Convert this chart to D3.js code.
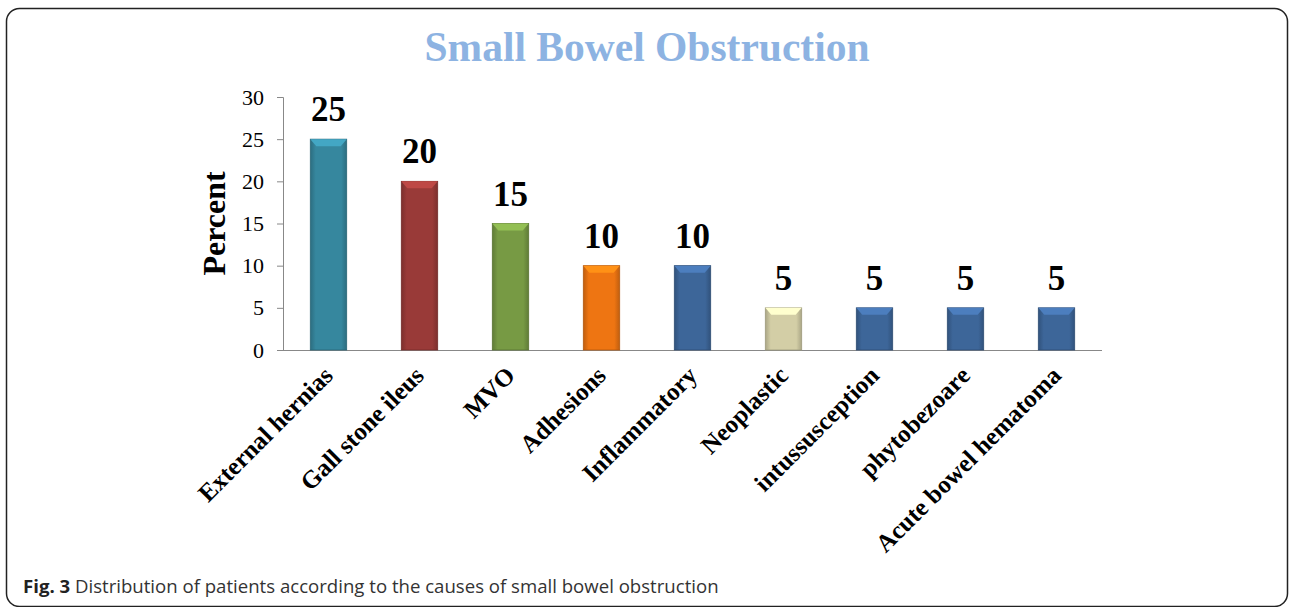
<!DOCTYPE html>
<html>
<head>
<meta charset="utf-8">
<script src="https://cdn.jsdelivr.net/npm/d3@7"></script>
<style>
  body { margin: 0; background: #fff; }
</style>
</head>
<body>
<div id="chart-area"></div>
<script>
const categories = ["External hernias", "Gall stone ileus", "MVO", "Adhesions", "Inflammatory",
  "Neoplastic", "intussusception", "phytobezoare", "Acute bowel hematoma"];
const percents = [25, 20, 15, 10, 10, 5, 5, 5, 5];
const barColors = ["#36879e", "#993a38", "#779a44", "#ee7512", "#3d6699",
  "#d3cea6", "#3d6699", "#3d6699", "#3d6699"];
const yTicks = [0, 5, 10, 15, 20, 25, 30];

const canvasWidth = 1290;
const canvasHeight = 607;
const margin = {left: 283, top: 97, right: 188, bottom: 257};
const chartWidth = canvasWidth - margin.left - margin.right;
const chartHeight = canvasHeight - margin.top - margin.bottom;

const canvas = d3.select("#chart-area").append("svg")
  .attr("width", canvasWidth).attr("height", canvasHeight);

// frame around figure
canvas.append("rect")
  .attr("x", 6.5).attr("y", 8.5).attr("width", 1281).attr("height", 598)
  .attr("rx", 13).attr("fill", "none").attr("stroke", "#222").attr("stroke-width", 1.5);

canvas.append("text")
  .attr("x", 647).attr("y", 61)
  .attr("text-anchor", "middle")
  .attr("font-family", "Liberation Serif, Times New Roman, serif")
  .attr("font-weight", "bold").attr("font-size", "41.5px")
  .attr("fill", "#8db3e2")
  .text("Small Bowel Obstruction");

const caption = canvas.append("text")
  .attr("x", 23).attr("y", 593)
  .attr("font-family", "Open Sans, Noto Sans, sans-serif")
  .attr("font-size", "18.6px").attr("fill", "#333");
caption.append("tspan").attr("font-weight", "bold").attr("fill", "#222").text("Fig. 3");
caption.append("tspan").text(" Distribution of patients according to the causes of small bowel obstruction");

const chartGroup = canvas.append("g").attr("transform", `translate(${margin.left}, ${margin.top})`);

const yScale = d3.scaleLinear().domain([0, 30]).range([chartHeight, 0]);
const xScale = d3.scaleBand().domain(categories).range([0, chartWidth]).paddingInner(0.6).paddingOuter(0.3);

// bar gradients
const defs = canvas.append("defs");
barColors.forEach((c, i) => {
  const g = defs.append("linearGradient").attr("id", "grad" + i)
    .attr("x1", 0).attr("x2", 1).attr("y1", 0).attr("y2", 0);
  const base = d3.color(c);
  g.append("stop").attr("offset", 0).attr("stop-color", base.darker(0.6));
  g.append("stop").attr("offset", 0.15).attr("stop-color", base);
  g.append("stop").attr("offset", 0.85).attr("stop-color", base);
  g.append("stop").attr("offset", 1).attr("stop-color", base.darker(0.6));
});

const yAxis = d3.axisLeft(yScale).tickValues(yTicks).tickSize(6).tickPadding(13);
const yAxisG = chartGroup.append("g").call(yAxis);
yAxisG.select(".domain").attr("stroke", "#888").attr("d", `M-6,0.5H0.5V${chartHeight}`);
yAxisG.selectAll(".tick line").attr("stroke", "#888");
yAxisG.selectAll(".tick text")
  .attr("font-family", "Liberation Serif, Times New Roman, serif")
  .attr("font-size", "22px").attr("fill", "#000");

chartGroup.append("line")
  .attr("x1", 0).attr("x2", chartWidth)
  .attr("y1", chartHeight + 0.5).attr("y2", chartHeight + 0.5)
  .attr("stroke", "#888").attr("stroke-width", 1.2);

chartGroup.append("text")
  .attr("transform", `translate(-58, ${yScale(15)}) rotate(-90)`)
  .attr("text-anchor", "middle")
  .attr("font-family", "Liberation Serif, Times New Roman, serif")
  .attr("font-weight", "bold").attr("font-size", "32px")
  .text("Percent");

const bw = xScale.bandwidth();
const bars = chartGroup.selectAll(".bar").data(categories).enter().append("g").attr("class", "bar");

bars.append("rect")
  .attr("x", d => xScale(d))
  .attr("y", (d, i) => yScale(percents[i]))
  .attr("width", bw)
  .attr("height", (d, i) => chartHeight - yScale(percents[i]))
  .attr("fill", (d, i) => `url(#grad${i})`)
  .attr("stroke", (d, i) => d3.color(barColors[i]).darker(0.8))
  .attr("stroke-width", 0.8);

// top bevel
bars.append("path")
  .attr("d", (d, i) => {
    const x0 = xScale(d), y0 = yScale(percents[i]);
    return `M${x0},${y0}H${x0 + bw}L${x0 + bw - 6},${y0 + 7}H${x0 + 6}Z`;
  })
  .attr("fill", (d, i) => d3.color(barColors[i]).brighter(0.6));

// value labels
chartGroup.selectAll(".val").data(categories).enter().append("text")
  .attr("x", d => xScale(d) + bw / 2)
  .attr("y", (d, i) => yScale(percents[i]) - 18)
  .attr("text-anchor", "middle")
  .attr("font-family", "Liberation Serif, Times New Roman, serif")
  .attr("font-weight", "bold").attr("font-size", "35px")
  .text((d, i) => percents[i]);

// category labels
chartGroup.selectAll(".cat").data(categories).enter().append("text")
  .attr("transform", d => `translate(${xScale(d) + bw / 2 + 6}, ${chartHeight + 27}) rotate(-45)`)
  .attr("text-anchor", "end")
  .attr("font-family", "Liberation Serif, Times New Roman, serif")
  .attr("font-weight", "bold").attr("font-size", "25px")
  .text(d => d);
</script>
</body>
</html>
